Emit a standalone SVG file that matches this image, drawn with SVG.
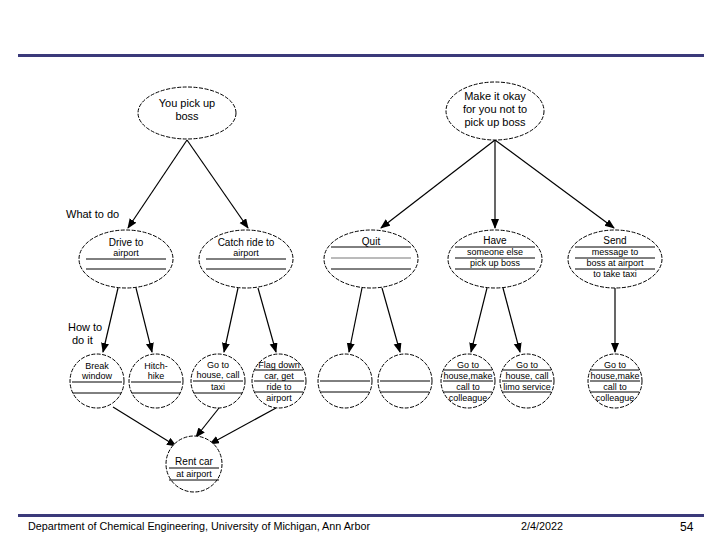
<svg xmlns="http://www.w3.org/2000/svg" width="720" height="540" viewBox="0 0 720 540">
<defs>
<marker id="ah" markerWidth="10" markerHeight="10" refX="9" refY="4" orient="auto" markerUnits="userSpaceOnUse">
<path d="M0,0 L10,4 L0,8 Z" fill="#000"/>
</marker>
<style>
text{font-family:"Liberation Sans",Arial,sans-serif;fill:#000}
.n ellipse,.n circle{fill:#fff;stroke:#000;stroke-width:1;stroke-dasharray:4 1.5}
.n line{stroke:#000;stroke-width:1}
.t1{font-size:11px;text-anchor:middle}
.t2{font-size:10px;text-anchor:middle}
.t3{font-size:9px;text-anchor:middle}
.lbl{font-size:11px}
.ft{font-size:10.8px}
#edges line{stroke:#000;stroke-width:1.2;marker-end:url(#ah)}
</style>
</defs>
<rect width="720" height="540" fill="#fff"/>
<rect x="18" y="54" width="686" height="3" fill="#3b3a7a"/>
<rect x="18" y="514" width="686" height="3" fill="#3b3a7a"/>
<text class="ft" x="28" y="530">Department of Chemical Engineering, University of Michigan, Ann Arbor</text>
<text class="ft" x="521" y="530">2/4/2022</text>
<text x="680" y="531" style="font-size:12px">54</text>

<text class="lbl" x="66" y="218">What to do</text>
<text class="lbl" x="68" y="331">How to</text>
<text class="lbl" x="72" y="344">do it</text>

<g id="edges">
<line x1="187" y1="140" x2="128" y2="228"/>
<line x1="187" y1="140" x2="248" y2="228"/>
<line x1="495" y1="140" x2="381" y2="228"/>
<line x1="495" y1="140" x2="495" y2="228"/>
<line x1="495" y1="140" x2="614" y2="228"/>
<line x1="118" y1="288" x2="103" y2="352"/>
<line x1="136" y1="288" x2="152" y2="352"/>
<line x1="238" y1="288" x2="224" y2="352"/>
<line x1="258" y1="288" x2="276" y2="352"/>
<line x1="362" y1="288" x2="349" y2="352"/>
<line x1="382" y1="288" x2="400" y2="352"/>
<line x1="487" y1="288" x2="471" y2="352"/>
<line x1="503" y1="288" x2="520" y2="352"/>
<line x1="615" y1="288" x2="615" y2="352"/>
<line x1="113" y1="407" x2="176" y2="446"/>
<line x1="219" y1="408" x2="196" y2="437"/>
<line x1="276" y1="408" x2="210" y2="444"/>
</g>

<g id="n-you" class="n">
<ellipse cx="187" cy="113" rx="49" ry="26"/>
<text class="t1" x="187" y="107">You pick up</text>
<text class="t1" x="187" y="120">boss</text>
</g>
<g id="n-okay" class="n">
<ellipse cx="495" cy="111" rx="49" ry="29"/>
<text class="t1" x="495" y="100">Make it okay</text>
<text class="t1" x="495" y="113">for you not to</text>
<text class="t1" x="495" y="126">pick up boss</text>
</g>

<g id="n-drive" class="n">
<ellipse cx="126" cy="259" rx="47" ry="29"/>
<text class="t2" x="126" y="246">Drive to</text>
<text class="t3" x="126" y="256">airport</text>
<line x1="86" y1="259" x2="166" y2="259"/>
<line x1="86" y1="269" x2="166" y2="269"/>
</g>
<g id="n-catch" class="n">
<ellipse cx="246" cy="259" rx="47" ry="29"/>
<text class="t2" x="246" y="246">Catch ride to</text>
<text class="t3" x="246" y="256">airport</text>
<line x1="206" y1="259" x2="286" y2="259"/>
<line x1="206" y1="269" x2="286" y2="269"/>
</g>
<g id="n-quit" class="n">
<ellipse cx="371" cy="259" rx="47" ry="29"/>
<text class="t2" x="371" y="245">Quit</text>
<line x1="331" y1="247" x2="411" y2="247"/>
<line x1="331" y1="258" x2="411" y2="258" style="stroke:#777"/>
<line x1="331" y1="269" x2="411" y2="269"/>
</g>
<g id="n-have" class="n">
<ellipse cx="495" cy="259" rx="47" ry="29"/>
<text class="t2" x="495" y="244">Have</text>
<line x1="455" y1="247" x2="535" y2="247"/>
<text class="t3" x="495" y="255">someone else</text>
<line x1="455" y1="258" x2="535" y2="258"/>
<text class="t3" x="495" y="266">pick up boss</text>
<line x1="455" y1="269" x2="535" y2="269"/>
</g>
<g id="n-send" class="n">
<ellipse cx="615" cy="259" rx="47" ry="29"/>
<text class="t2" x="615" y="244">Send</text>
<line x1="575" y1="247" x2="655" y2="247"/>
<text class="t3" x="615" y="255">message to</text>
<line x1="575" y1="258" x2="655" y2="258"/>
<text class="t3" x="615" y="266">boss at airport</text>
<line x1="575" y1="269" x2="655" y2="269"/>
<text class="t3" x="615" y="277">to take taxi</text>
</g>

<g id="n-break" class="n">
<circle cx="97" cy="381" r="27"/>
<text class="t3" x="97" y="369">Break</text>
<text class="t3" x="97" y="379">window</text>
<line x1="72" y1="382" x2="122" y2="382"/>
<line x1="73" y1="393" x2="121" y2="393"/>
</g>
<g id="n-hitch" class="n">
<circle cx="156" cy="381" r="27"/>
<text class="t3" x="156" y="369">Hitch-</text>
<text class="t3" x="156" y="379">hike</text>
<line x1="131" y1="382" x2="181" y2="382"/>
<line x1="132" y1="393" x2="180" y2="393"/>
</g>
<g id="n-taxi" class="n">
<circle cx="218" cy="381" r="27"/>
<text class="t3" x="218" y="368">Go to</text>
<text class="t3" x="218" y="378">house, call</text>
<line x1="193" y1="381" x2="243" y2="381"/>
<text class="t3" x="218" y="390">taxi</text>
<line x1="194" y1="393" x2="242" y2="393"/>
</g>
<g id="n-flag" class="n">
<circle cx="279" cy="381" r="27"/>
<text class="t3" x="279" y="368">Flag down</text>
<line x1="255" y1="370" x2="303" y2="370"/>
<text class="t3" x="279" y="379">car, get</text>
<line x1="254" y1="381" x2="304" y2="381"/>
<text class="t3" x="279" y="390">ride to</text>
<line x1="255" y1="392" x2="303" y2="392"/>
<text class="t3" x="279" y="401">airport</text>
</g>
<g id="n-blank1" class="n">
<circle cx="345" cy="381" r="27"/>
<line x1="320" y1="381" x2="370" y2="381"/>
<line x1="321" y1="392" x2="369" y2="392"/>
</g>
<g id="n-blank2" class="n">
<circle cx="405" cy="381" r="27"/>
<line x1="380" y1="381" x2="430" y2="381"/>
<line x1="381" y1="392" x2="429" y2="392"/>
</g>
<g id="n-coll1" class="n">
<circle cx="468" cy="381" r="27"/>
<text class="t3" x="468" y="368">Go to</text>
<line x1="444" y1="370" x2="492" y2="370"/>
<text class="t3" x="468" y="379">house,make</text>
<line x1="443" y1="381" x2="493" y2="381"/>
<text class="t3" x="468" y="390">call to</text>
<line x1="444" y1="392" x2="492" y2="392"/>
<text class="t3" x="468" y="401">colleague</text>
</g>
<g id="n-limo" class="n">
<circle cx="527" cy="381" r="27"/>
<text class="t3" x="527" y="368">Go to</text>
<line x1="503" y1="370" x2="551" y2="370"/>
<text class="t3" x="527" y="379">house, call</text>
<line x1="502" y1="381" x2="552" y2="381"/>
<text class="t3" x="527" y="390">limo service</text>
<line x1="503" y1="392" x2="551" y2="392"/>
</g>
<g id="n-coll2" class="n">
<circle cx="615" cy="381" r="27"/>
<text class="t3" x="615" y="368">Go to</text>
<line x1="591" y1="370" x2="639" y2="370"/>
<text class="t3" x="615" y="379">house,make</text>
<line x1="590" y1="381" x2="640" y2="381"/>
<text class="t3" x="615" y="390">call to</text>
<line x1="591" y1="392" x2="639" y2="392"/>
<text class="t3" x="615" y="401">colleague</text>
</g>

<g id="n-rent" class="n">
<circle cx="194" cy="464" r="28"/>
<text class="t2" x="194" y="465">Rent car</text>
<line x1="169" y1="468" x2="219" y2="468"/>
<text class="t3" x="194" y="477">at airport</text>
<line x1="169" y1="480" x2="219" y2="480"/>
</g>
</svg>
